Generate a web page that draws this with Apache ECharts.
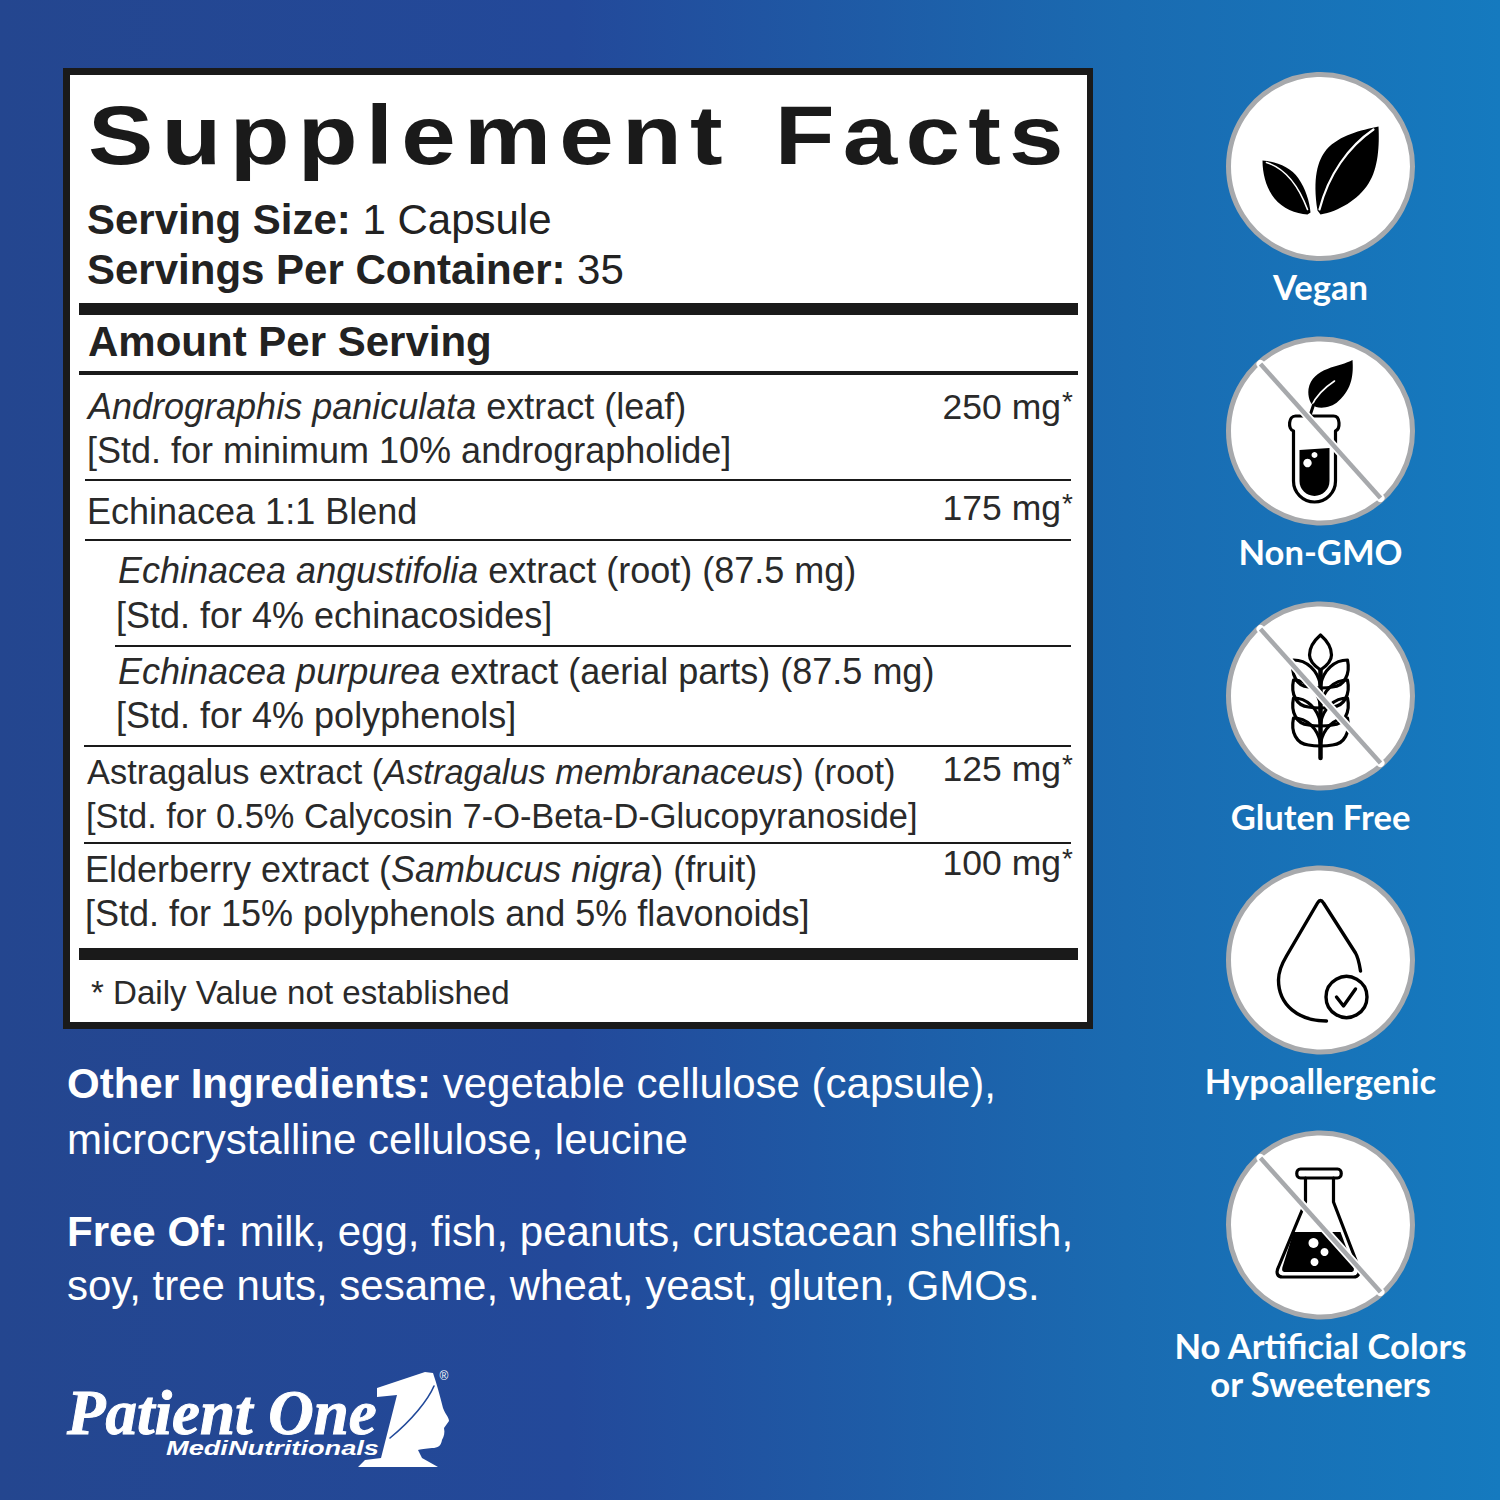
<!DOCTYPE html>
<html>
<head>
<meta charset="utf-8">
<title>Supplement Facts</title>
<style>html,body{margin:0;padding:0;background:#fff}#main{width:1500px;height:1500px}</style>
<script src="https://cdn.jsdelivr.net/npm/echarts@6/dist/echarts.min.js"></script>
</head>
<body>
<div id="main"></div>
<script>
// label text
var titleText = 'Supplement Facts';
var servingLines = ['{b|Serving Size:} 1 Capsule', '{b|Servings Per Container:} 35'];
var amountHeader = 'Amount Per Serving';
var ingredientLines = [
    '{i|Andrographis paniculata} extract (leaf)',
    '[Std. for minimum 10% andrographolide]',
    'Echinacea 1:1 Blend',
    '{i|Echinacea angustifolia} extract (root) (87.5 mg)',
    '[Std. for 4% echinacosides]',
    '{i|Echinacea purpurea} extract (aerial parts) (87.5 mg)',
    '[Std. for 4% polyphenols]',
    'Astragalus extract ({i|Astragalus membranaceus}) (root)',
    '[Std. for 0.5% Calycosin 7-O-Beta-D-Glucopyranoside]',
    'Elderberry extract ({i|Sambucus nigra}) (fruit)',
    '[Std. for 15% polyphenols and 5% flavonoids]'
];
var amounts = ['250 mg', '175 mg', '125 mg', '100 mg'];
var footnote = '* Daily Value not established';
var belowLines = [
    '{b|Other Ingredients:} vegetable cellulose (capsule),',
    'microcrystalline cellulose, leucine',
    '{b|Free Of:} milk, egg, fish, peanuts, crustacean shellfish,',
    'soy, tree nuts, sesame, wheat, yeast, gluten, GMOs.'
];
var badgeLabels = ['Vegan', 'Non-GMO', 'Gluten Free', 'Hypoallergenic', 'No Artificial Colors\nor Sweeteners'];

// layout
var ingredientX = [88, 87, 87, 118, 116, 118, 116, 87, 86, 85, 85];
var ingredientY = [406.5, 450.5, 511.5, 570.5, 615, 671, 715, 772, 816, 869.5, 913.5];
var ingredientSize = [36, 36, 36, 36, 36, 36, 36, 34.4, 34.4, 36, 36];
var amountY = [406.5, 508, 769, 863];
var thinRules = [[85, 480], [85, 540], [115, 646], [84, 746], [84, 843]];
var thickRules = [[303, 12], [371, 4], [948, 12]];
var belowY = [1083.5, 1139.5, 1231.5, 1285.5];
var badgeY = [166.5, 431, 696, 960, 1225];
var labelY = [286, 551.5, 816, 1080, 1364];
var SANS = '"Liberation Sans"';

var g = [];
var shapeCount = 0;

function text(str, x, y, size, color, opts) {
    opts = opts || {};
    var base = (opts.weight ? opts.weight + ' ' : '') + size + 'px ' + (opts.family || SANS);
    g.push({
        type: 'text', silent: true, z: opts.z || 10,
        originX: x, originY: y, scaleX: opts.scaleX || 1,
        style: {
            text: str, x: x, y: y, font: opts.italic ? 'italic ' + base : base, fill: color,
            stroke: opts.stroke, lineWidth: opts.stroke ? opts.strokeWidth : 0,
            textAlign: opts.align || 'left', textVerticalAlign: 'middle', lineHeight: opts.lineHeight,
            rich: {
                b: {font: 'bold ' + size + 'px ' + SANS, fill: color},
                i: {font: 'italic ' + size + 'px ' + SANS, fill: color}
            }
        }
    });
}
function rect(x, y, w, h, color) {
    g.push({type: 'rect', silent: true, z: 5, shape: {x: x, y: y, width: w, height: h}, style: {fill: color}});
}
// icon parts are drawn relative to the centre of their badge
function path(d, cx, cy, style, z) {
    var name = 'iconPart' + (shapeCount++);
    echarts.graphic.registerShape(name, echarts.graphic.extendPath(d, {}));
    g.push({type: name, silent: true, z: z || 7, x: cx, y: cy, style: style});
}
function fillPath(d, cx, cy, color) { path(d, cx, cy, {fill: color || '#000'}); }
function linePath(d, cx, cy, w, color) {
    path(d, cx, cy, {fill: 'none', stroke: color || '#000', lineWidth: w, lineCap: 'round', lineJoin: 'round'});
}
function dot(x, y, r, color) {
    g.push({type: 'circle', silent: true, z: 8, shape: {cx: x, cy: y, r: r}, style: {fill: color || '#fff'}});
}

// background
g.push({
    type: 'rect', silent: true, z: 0, shape: {x: 0, y: 0, width: 1500, height: 1500},
    style: {fill: new echarts.graphic.LinearGradient(0, 0, 1, 0, [
        {offset: 0, color: '#24468f'},
        {offset: 0.38, color: '#23499a'},
        {offset: 0.75, color: '#1a6bb1'},
        {offset: 1, color: '#157abf'}
    ])}
});

// panel
rect(63, 68, 1030, 961, '#1a1a1a');
rect(70, 75, 1017, 947, '#fff');
text(titleText, 88, 135, 83, '#1a1a1a', {weight: 'bold', scaleX: 1.18});
text(servingLines[0], 87, 219, 42, '#222');
text(servingLines[1], 87, 269, 42, '#222');
thickRules.forEach(function (r) { rect(79, r[0], 999, r[1], '#1a1a1a'); });
text(amountHeader, 88, 341, 42, '#222', {weight: 'bold'});
thinRules.forEach(function (r) { rect(r[0], r[1] - 1, 1071 - r[0], 2, '#1a1a1a'); });
ingredientLines.forEach(function (s, i) { text(s, ingredientX[i], ingredientY[i], ingredientSize[i], '#2a2a2a'); });
amounts.forEach(function (s, i) {
    text(s, 1061, amountY[i], 35.5, '#2a2a2a', {align: 'right'});
    text('*', 1062, amountY[i] - 5, 28, '#2a2a2a');
});
text(footnote, 91, 992, 33.1, '#2a2a2a');

// text on the blue
belowLines.forEach(function (s, i) { text(s, 67, belowY[i], 42, '#fff'); });

// badges
var BADGE_X = 1320.5;
badgeY.forEach(function (cy) {
    g.push({
        type: 'circle', silent: true, z: 6, shape: {cx: BADGE_X, cy: cy, r: 92},
        style: {fill: '#fff', stroke: '#a7a9ac', lineWidth: 5}
    });
});
badgeLabels.forEach(function (s, i) {
    text(s, BADGE_X, labelY[i], 34.6, '#fff', {weight: 'bold', family: 'Lato', align: 'center', lineHeight: 38});
});

function slash(cy) {
    linePath('M-60,-67L60,67', BADGE_X, cy, 8, '#fff');
    g.push({
        type: 'line', silent: true, z: 9,
        shape: {x1: BADGE_X - 60, y1: cy - 67, x2: BADGE_X + 60, y2: cy + 67},
        style: {stroke: '#a7a9ac', lineWidth: 4.5}
    });
}

// vegan
var cy = badgeY[0];
fillPath('M58,-40C40,-36 20,-32 6,-17C-3,-6 -8,12 -3,44L0,48C18,45 38,33 48,17C58,2 59,-22 58,-40Z', BADGE_X, cy);
linePath('M53,-37C28,-20 8,8 -1,43', BADGE_X, cy, 2.2, '#fff');
fillPath('M-58,-6C-45,-5 -30,0 -22,12C-15,22 -11,35 -10,46L-13,48C-25,47 -38,42 -46,32C-54,22 -58,8 -58,-6Z', BADGE_X, cy);
linePath('M-54,-4C-38,1 -24,14 -13,43', BADGE_X, cy, 1.6, '#fff');

// non-gmo
cy = badgeY[1];
fillPath('M32,-71C20,-64 -8,-64 -12,-42C-13,-34 -10,-28 -8,-26C-4,-22 10,-22 18,-30C32,-42 33,-58 32,-71Z', BADGE_X, cy);
linePath('M-9,-25C-5,-34 2,-42 14,-50', BADGE_X, cy, 1.6, '#fff');
linePath('M-11,-14L-7,-26', BADGE_X, cy, 3);
linePath('M-27,0C-33,-2 -32,-15 -25,-15H13C20,-15 20,-2 15,0V50A21,21 0 0 1 -27,50Z', BADGE_X, cy, 3.2);
fillPath('M-21,19L9,17V50A15,15 0 0 1 -21,50Z', BADGE_X, cy);
dot(BADGE_X - 13, cy + 32, 4.2);
dot(BADGE_X - 6, cy + 24, 3);
slash(cy);

// gluten free
cy = badgeY[2];
linePath('M0,-61C-8,-54 -11,-47 -11,-41C-11,-35 -6,-30 0,-26C6,-30 11,-35 11,-41C11,-47 8,-54 0,-61Z', BADGE_X, cy, 3.2);
linePath('M0,-26V62', BADGE_X, cy, 4.5);
[-36, -16, 2, 22].forEach(function (y) {
    [-1, 1].forEach(function (s) {
        linePath('M0,' + (y + 25) + 'C' + (s * 3) + ',' + (y + 10) + ' ' + (s * 14) + ',' + y + ' ' + (s * 27) + ',' + y +
            'C' + (s * 30) + ',' + (y + 14) + ' ' + (s * 24) + ',' + (y + 26) + ' ' + (s * 12) + ',' + (y + 27) +
            'C' + (s * 7) + ',' + (y + 28) + ' ' + (s * 3) + ',' + (y + 28) + ' 0,' + (y + 28), BADGE_X, cy, 3.2);
    });
});
slash(cy);

// hypoallergenic
cy = badgeY[3];
linePath('M40,11C39,5 38,-2 35,-7L3,-57Q0,-62 -3,-57L-34,-4C-40,6 -42,12 -42,20C-42,45 -22,61 6,61', BADGE_X, cy, 3.4);
g.push({
    type: 'circle', silent: true, z: 8, shape: {cx: BADGE_X + 26, cy: cy + 37, r: 20.5},
    style: {fill: 'none', stroke: '#000', lineWidth: 3.4}
});
linePath('M16,37L23,46L35,29', BADGE_X, cy, 3.4);

// no artificial colors
cy = badgeY[4];
linePath('M-15,-47V-23L-42,42C-45,48 -43,52 -38,52H33C38,52 40,48 38,42L13,-23V-47', BADGE_X, cy, 3.2);
linePath('M-20,-56H17C22,-56 22,-47 17,-47H-20C-25,-47 -25,-56 -20,-56Z', BADGE_X, cy, 3.2);
fillPath('M-27,7H20L33,42C34,46 33,47 30,47H-35C-38,47 -39,46 -38,42Z', BADGE_X, cy);
dot(BADGE_X - 7, cy + 18, 5);
dot(BADGE_X + 4, cy + 27, 4);
dot(BADGE_X - 6, cy + 37, 4);
slash(cy);

// logo
text('Patient One', 67, 1413, 63, '#fff', {weight: 'bold', italic: true, family: '"Liberation Serif"', stroke: '#fff', strokeWidth: 1, lineHeight: 48});
text('MediNutritionals', 166, 1448, 20, '#fff', {weight: 'bold', italic: true, scaleX: 1.36, lineHeight: 16});
fillPath('M377,1388L425,1372L433,1373C437,1385 440,1396 443,1408C445,1414 449,1417 449,1421L444,1428C445,1433 444,1436 442,1440C441,1446 438,1448 432,1448C426,1449 420,1449 418,1450L422,1458L438,1467H358L365,1460L381,1458L397,1395L377,1397Z', 0, 0, '#fff');
linePath('M434,1386C428,1400 412,1420 390,1438', 0, 0, 1.6, '#21499a');
text('®', 444, 1376, 12, '#fff', {align: 'center'});

var myChart = echarts.init(document.getElementById('main'), null, {renderer: 'svg', width: 1500, height: 1500});
myChart.setOption({animation: false, graphic: {elements: g}});

// zrender has no tracking setting, the title is spaced out on the svg node
document.querySelectorAll('#main text').forEach(function (el) {
    if (el.textContent === titleText) {
        el.setAttribute('letter-spacing', '7');
        el.setAttribute('word-spacing', '7');
    }
});
</script>
</body>
</html>
